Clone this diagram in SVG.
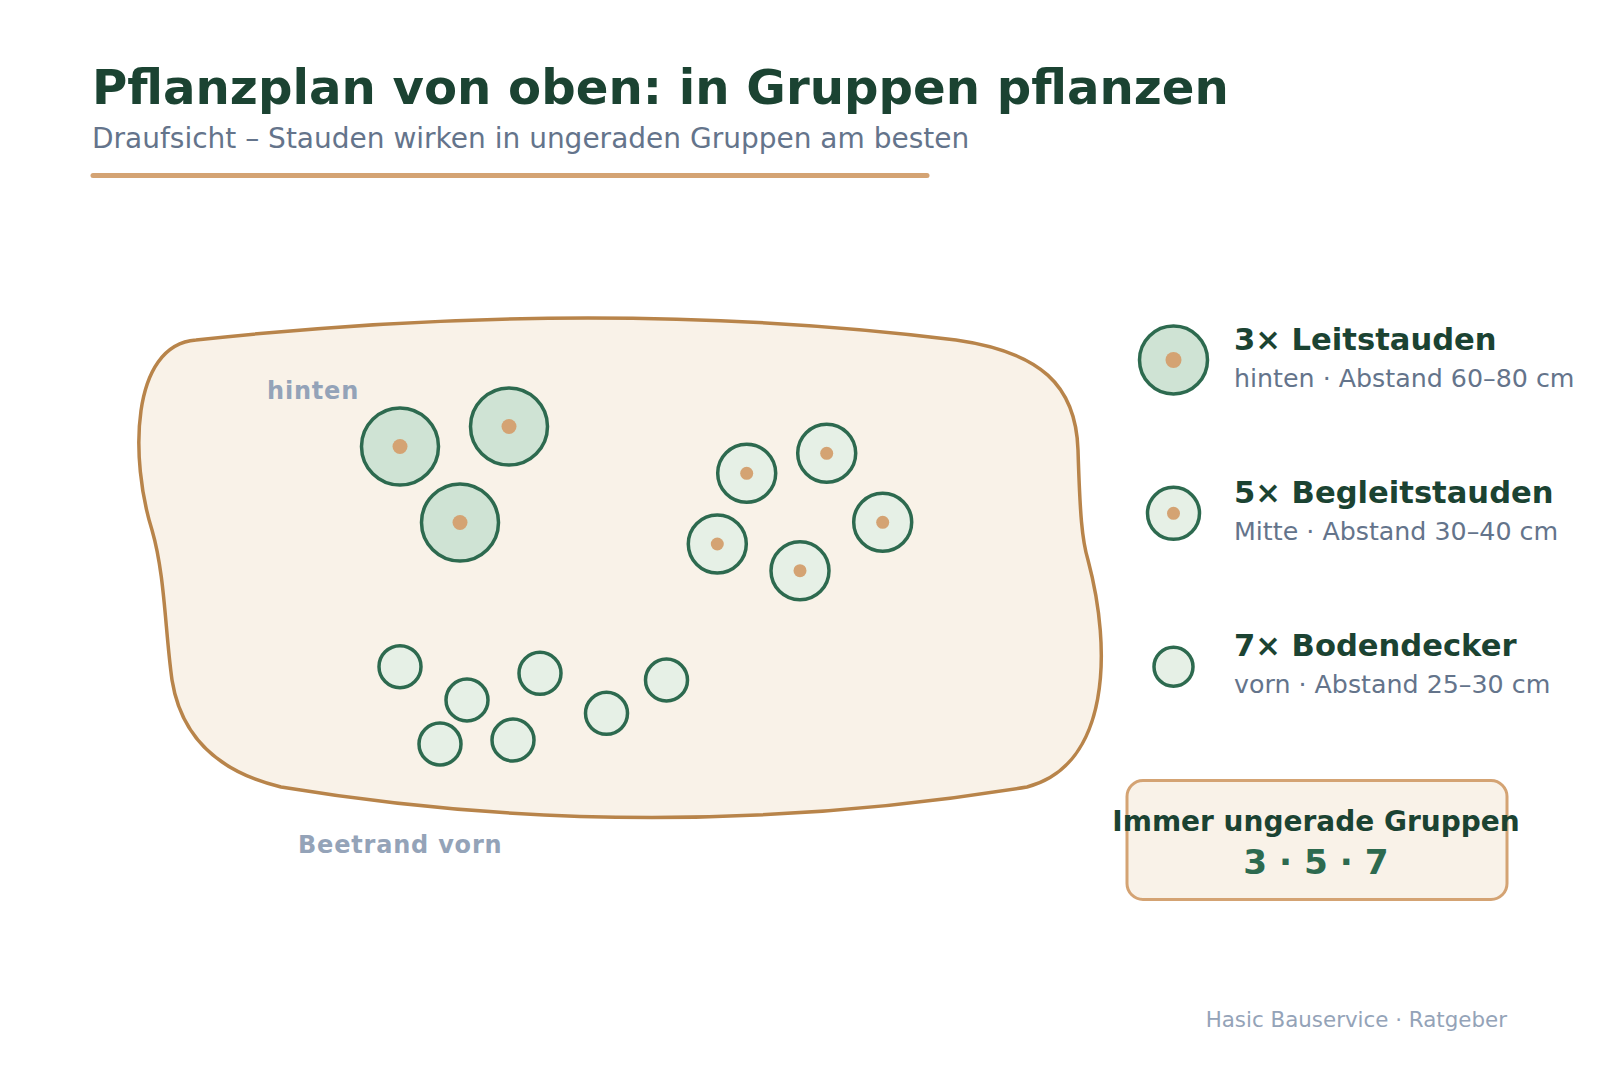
<svg xmlns="http://www.w3.org/2000/svg" width="1600" height="1067" viewBox="0 0 1600 1067">
<style>
  text { font-family: "DejaVu Sans", "Liberation Sans", sans-serif; }
  .title { font-size: 48.2px; font-weight: bold; fill: #1b4332; }
  .subtitle { font-size: 28px; fill: #64748b; }
  .bed { fill: #f9f2e8; stroke: #b8844a; stroke-width: 3.5; }
  .leit { fill: #cfe3d4; stroke: #2d6a4f; stroke-width: 3.5; }
  .begl { fill: #e6f0e6; stroke: #2d6a4f; stroke-width: 3.5; }
  .boden { fill: #e6f0e6; stroke: #2d6a4f; stroke-width: 3.5; }
  .dot { fill: #d4a373; }
  .area { font-size: 24px; font-weight: bold; fill: #94a3b8; letter-spacing: 0.8px; }
  .lgt { font-size: 30.6px; font-weight: bold; fill: #1b4332; }
  .lgs { font-size: 25.3px; fill: #64748b; }
  .box { fill: #f9f2e8; stroke: #d4a373; stroke-width: 3; }
  .boxt { font-size: 28px; font-weight: bold; fill: #1b4332; text-anchor: middle; }
  .boxn { font-size: 34.3px; font-weight: bold; fill: #2d6a4f; text-anchor: middle; }
  .foot { font-size: 21.4px; fill: #94a3b8; text-anchor: end; }
</style>

<g id="header">
  <text class="title" x="92" y="104">Pflanzplan von oben: in Gruppen pflanzen</text>
  <text class="subtitle" x="92" y="148">Draufsicht – Stauden wirken in ungeraden Gruppen am besten</text>
  <line x1="93" y1="175.5" x2="927" y2="175.5" stroke="#d4a373" stroke-width="5" stroke-linecap="round"/>
</g>

<g id="bed">
  <path class="bed" d="M 196 340 Q 600 296 956 340 C 1040 352 1076 385 1078 450 C 1080 515 1082 540 1088 560 C 1112 650 1110 765 1027 787 Q 650 848 281 787 C 210 770 180 730 172 680 C 165 630 165 575 152 530 C 130 460 130 345 196 340 Z"/>
  <text class="area" x="267" y="399">hinten</text>
  <text class="area" x="298" y="853">Beetrand vorn</text>
</g>

<g id="leitstauden">
  <circle class="leit" cx="400" cy="446.5" r="38.5"/><circle class="dot" cx="400" cy="446.5" r="7.5"/>
  <circle class="leit" cx="509" cy="426.5" r="38.5"/><circle class="dot" cx="509" cy="426.5" r="7.5"/>
  <circle class="leit" cx="460" cy="522.5" r="38.5"/><circle class="dot" cx="460" cy="522.5" r="7.5"/>
</g>

<g id="begleitstauden">
  <circle class="begl" cx="746.7" cy="473.3" r="29"/><circle class="dot" cx="746.7" cy="473.3" r="6.5"/>
  <circle class="begl" cx="826.7" cy="453.3" r="29"/><circle class="dot" cx="826.7" cy="453.3" r="6.5"/>
  <circle class="begl" cx="882.7" cy="522.3" r="29"/><circle class="dot" cx="882.7" cy="522.3" r="6.5"/>
  <circle class="begl" cx="717.3" cy="544" r="29"/><circle class="dot" cx="717.3" cy="544" r="6.5"/>
  <circle class="begl" cx="800" cy="570.7" r="29"/><circle class="dot" cx="800" cy="570.7" r="6.5"/>
</g>

<g id="bodendecker">
  <circle class="boden" cx="400" cy="666.7" r="21"/>
  <circle class="boden" cx="467" cy="700" r="21"/>
  <circle class="boden" cx="540" cy="673.3" r="21"/>
  <circle class="boden" cx="440" cy="744" r="21"/>
  <circle class="boden" cx="513" cy="740" r="21"/>
  <circle class="boden" cx="606.5" cy="713.3" r="21"/>
  <circle class="boden" cx="666.5" cy="680" r="21"/>
</g>

<g id="legend-leit">
  <circle class="leit" cx="1173.5" cy="360" r="34"/><circle class="dot" cx="1173.5" cy="360" r="8"/>
  <text class="lgt" x="1234" y="350">3× Leitstauden</text>
  <text class="lgs" x="1234" y="387">hinten · Abstand 60–80 cm</text>
</g>
<g id="legend-begleit">
  <circle class="begl" cx="1173.5" cy="513.3" r="26"/><circle class="dot" cx="1173.5" cy="513.3" r="6.5"/>
  <text class="lgt" x="1234" y="503">5× Begleitstauden</text>
  <text class="lgs" x="1234" y="540">Mitte · Abstand 30–40 cm</text>
</g>
<g id="legend-boden">
  <circle class="boden" cx="1173.5" cy="666.7" r="19.5"/>
  <text class="lgt" x="1234" y="656">7× Bodendecker</text>
  <text class="lgs" x="1234" y="693">vorn · Abstand 25–30 cm</text>
</g>

<g id="rule-box">
  <rect class="box" x="1127" y="780.5" width="380" height="119" rx="16"/>
  <text class="boxt" x="1316" y="831">Immer ungerade Gruppen</text>
  <text class="boxn" x="1316" y="874">3 · 5 · 7</text>
</g>

<g id="connectors"></g>

<g id="footer">
  <text class="foot" x="1507" y="1027">Hasic Bauservice · Ratgeber</text>
</g>
</svg>
